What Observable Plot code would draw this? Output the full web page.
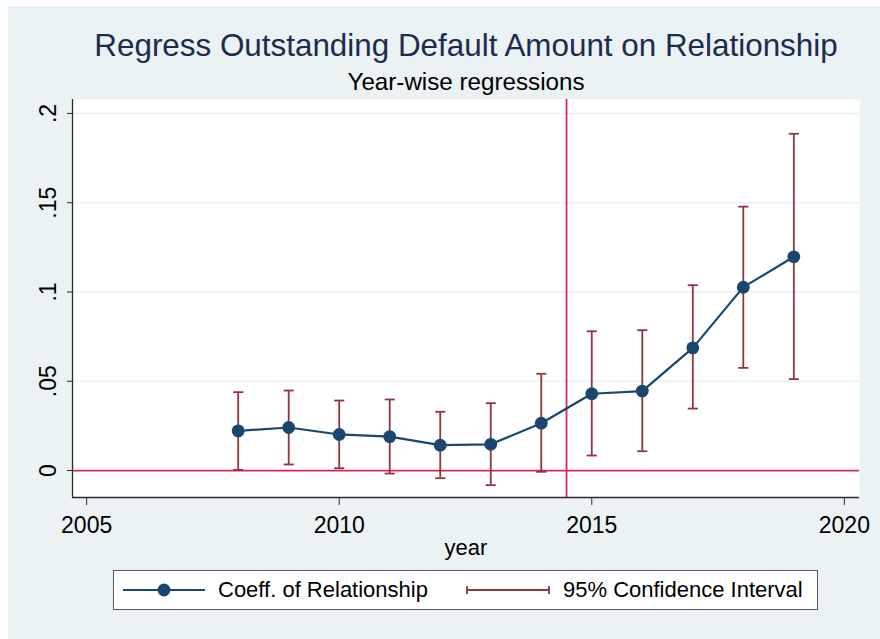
<!DOCTYPE html>
<html>
<head>
<meta charset="utf-8">
<script src="https://cdn.jsdelivr.net/npm/d3@7"></script>
<script src="https://cdn.jsdelivr.net/npm/@observablehq/plot@0.6"></script>
<style>
  html, body { margin: 0; padding: 0; background: #ffffff; }
  body { width: 880px; height: 639px; position: relative; overflow: hidden;
         font-family: "Liberation Sans", Arial, sans-serif; }
  #bg { position: absolute; left: 8px; top: 6px; width: 872px; height: 633px; background: #eaf2f3; }
  #chart { position: absolute; left: 0; top: 0; }
  .txt { position: absolute; white-space: nowrap; transform: translateX(-50%); }
  #title { left: 466px; top: 28px; font-size: 31.4px; color: #1c2b4f; }
  #subtitle { left: 466px; top: 68px; font-size: 24.2px; color: #000; }
  #xlabel { left: 466px; top: 535px; font-size: 22px; color: #000; }
  #legend { position: absolute; left: 113px; top: 570px; width: 703px; height: 38px;
            background: #fff; border: 1.5px solid #5a5a5a; }
  .li { position: absolute; top: 0; height: 38px; display: flex; align-items: center;
        font-size: 22px; color: #000; white-space: nowrap; }
  .li svg { margin-right: 12px; }
</style>
</head>
<body>
<div id="bg"></div>
<div id="chart"></div>
<div id="title" class="txt">Regress Outstanding Default Amount on Relationship</div>
<div id="subtitle" class="txt">Year-wise regressions</div>
<div id="xlabel" class="txt">year</div>
<div id="legend"></div>
<script>
// ---- data ----
const years  = [2008, 2009, 2010, 2011, 2012, 2013, 2014, 2015, 2016, 2017, 2018, 2019];
const coef   = [0.0222, 0.0241, 0.0202, 0.0190, 0.0142, 0.0147, 0.0265, 0.0430, 0.0445, 0.0687, 0.1027, 0.1197];
const ciLow  = [0.0004, 0.0034, 0.0013, -0.0017, -0.0043, -0.0082, -0.0007, 0.0084, 0.0108, 0.0347, 0.0575, 0.0512];
const ciHigh = [0.0439, 0.0448, 0.0392, 0.0398, 0.0329, 0.0377, 0.0542, 0.0780, 0.0786, 0.1038, 0.1478, 0.1886];
const xTicks = [2005, 2010, 2015, 2020];
const yTicks = [0, 0.05, 0.1, 0.15, 0.2];
const cutoffYear = 2014.5;
const seriesLabels = ["Coeff. of Relationship", "95% Confidence Interval"];

// ---- style ----
const navy = "#1a476f", maroon = "#90353b", refRed = "#d7265a";
const xDomain = [2004.72, 2020.30];
const yDomain = [-0.0151, 0.2078];
const capHalf = 0.1;

const rows = years.map((y, i) => ({year: y, coef: coef[i], lo: ciLow[i], hi: ciHigh[i]}));
const fmtY = d => d === 0 ? "0" : String(d).replace(/^0/, "");

const plot = Plot.plot({
  width: 880,
  height: 639,
  marginLeft: 72,
  marginRight: 21,
  marginTop: 99,
  marginBottom: 142,
  style: {background: "transparent", fontFamily: "'Liberation Sans', Arial, sans-serif", fontSize: "23px", color: "#000", overflow: "visible"},
  x: {domain: xDomain},
  y: {domain: yDomain},
  marks: [
    Plot.frame({fill: "#fff", stroke: "none"}),
    Plot.gridY(yTicks.filter(d => d > 0), {stroke: "#eaf2f3", strokeOpacity: 1, strokeWidth: 1.5}),
    Plot.ruleY([0], {stroke: refRed, strokeWidth: 1.8}),
    Plot.ruleX([cutoffYear], {stroke: refRed, strokeWidth: 1.8}),
    Plot.ruleX(rows, {x: "year", y1: "lo", y2: "hi", stroke: maroon, strokeWidth: 1.8}),
    Plot.link(rows, {x1: d => d.year - capHalf, x2: d => d.year + capHalf, y1: "lo", y2: "lo", stroke: maroon, strokeWidth: 1.8}),
    Plot.link(rows, {x1: d => d.year - capHalf, x2: d => d.year + capHalf, y1: "hi", y2: "hi", stroke: maroon, strokeWidth: 1.8}),
    Plot.line(rows, {x: "year", y: "coef", stroke: navy, strokeWidth: 2.2}),
    Plot.dot(rows, {x: "year", y: "coef", r: 6.4, fill: navy, stroke: "none"}),
    Plot.ruleX([xDomain[0]], {stroke: "#2b2b2b", strokeWidth: 1.3}),
    Plot.ruleY([yDomain[0]], {stroke: "#2b2b2b", strokeWidth: 1.3}),
    Plot.axisY({ticks: yTicks, tickFormat: fmtY, tickRotate: -90, tickSize: 5, tickPadding: 12, label: null, fontSize: 23, stroke: "#2b2b2b"}),
    Plot.axisX({ticks: xTicks, tickFormat: d => String(d), tickSize: 8, tickPadding: 11.5, label: null, fontSize: 23, stroke: "#2b2b2b"})
  ]
});
document.getElementById("chart").appendChild(plot);

// ---- legend ----
const legend = document.getElementById("legend");
const item1 = document.createElement("div");
item1.className = "li"; item1.style.left = "8px";
item1.innerHTML = `<svg width="84" height="16"><line x1="1" x2="83" y1="8" y2="8" stroke="${navy}" stroke-width="2.2"/><circle cx="42" cy="8" r="6.4" fill="${navy}"/></svg><span>${seriesLabels[0]}</span>`;
const item2 = document.createElement("div");
item2.className = "li"; item2.style.left = "352px";
item2.innerHTML = `<svg width="84" height="16" style="margin-right:13px"><line x1="1" x2="83" y1="8" y2="8" stroke="${maroon}" stroke-width="1.8"/><line x1="1" x2="1" y1="4" y2="12" stroke="${maroon}" stroke-width="1.8"/><line x1="83" x2="83" y1="4" y2="12" stroke="${maroon}" stroke-width="1.8"/></svg><span>${seriesLabels[1]}</span>`;
legend.appendChild(item1);
legend.appendChild(item2);
</script>
</body>
</html>
